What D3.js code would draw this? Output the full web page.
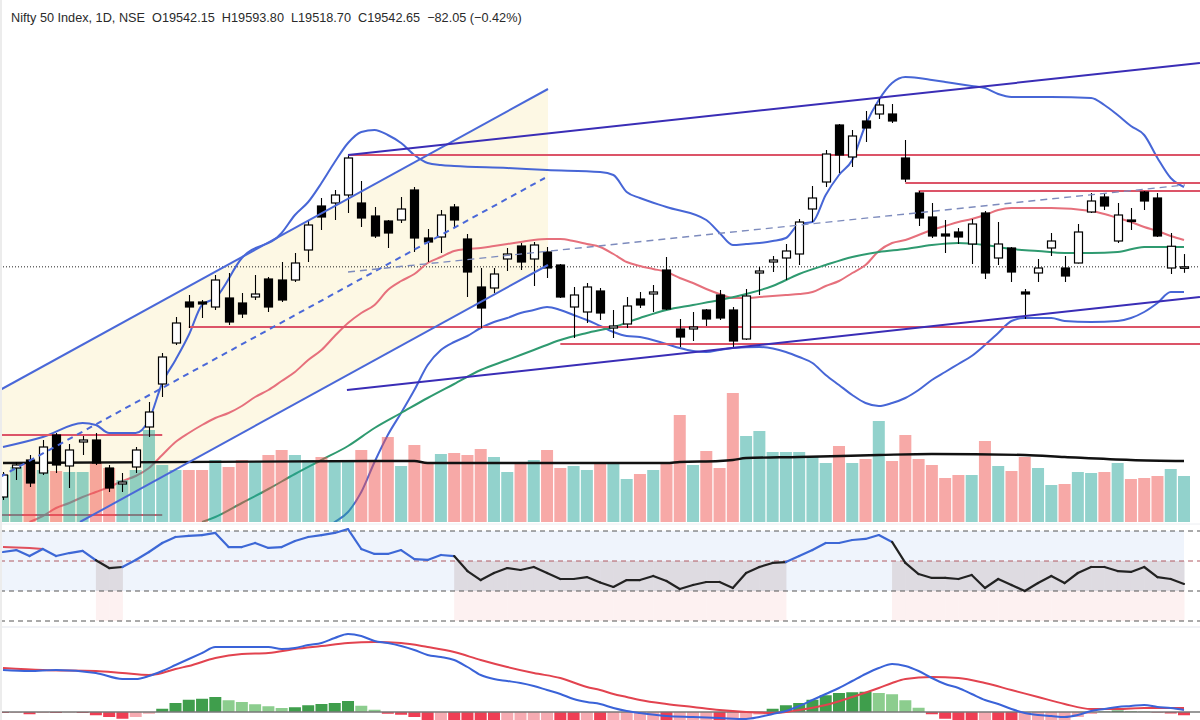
<!DOCTYPE html>
<html>
<head>
<meta charset="utf-8">
<title>Nifty 50 Index, 1D</title>
<script src="https://d3js.org/d3.v7.min.js"></script>
<style>
  body { margin: 0; background: #fff; }
  svg { display: block; }
  .title { font-family: "Liberation Sans", Arial, sans-serif; font-size: 12.7px; fill: #2a2a2a; white-space: pre; }
</style>
</head>
<body>
<svg width="1200" height="720"></svg>
<script>
// ---- candles (daily) ----
const open = [18622,18738,18770,18718,18870,18746,18842,18850,18738,18674,18742,18902,19074,19238,19402,19402,19382,19418,19398,19422,
  19494,19490,19490,19610,19786,19798,19830,19798,19746,19726,19730,19850,19658,19662,19782,19654,19462,19458,19574,19626,
  19574,19602,19550,19382,19362,19446,19298,19314,19414,19434,19530,19294,19294,19370,19430,19370,19254,19518,19562,19578,
  19594,19774,19882,20110,19982,20126,20154,20154,19978,19838,19742,19674,19682,19634,19758,19578,19618,19442,19518,19618,
  19538,19558,19762,19822,19646,19730,19842,19818,19538,19542.15];
const high = [18722,18762,18790,18850,18878,18834,18866,18878,18750,18718,18822,19002,19198,19342,19430,19410,19510,19518,19438,19510,
  19502,19562,19598,19730,19818,19850,19990,19886,19782,19730,19822,19862,19694,19770,19794,19674,19538,19538,19618,19638,
  19642,19622,19554,19462,19478,19458,19370,19422,19442,19470,19582,19334,19362,19374,19450,19382,19454,19542,19586,19634,
  19734,19866,20010,20114,20090,20166,20222,20194,20050,19846,19798,19730,19698,19734,19766,19722,19622,19454,19574,19678,
  19586,19714,19838,19838,19798,19778,19846,19838,19678,19593.8];
const low = [18610,18690,18662,18710,18718,18658,18790,18750,18642,18642,18718,18862,19022,19230,19298,19338,19370,19310,19338,19410,
  19362,19402,19482,19562,19690,19730,19758,19702,19658,19618,19718,19602,19562,19598,19702,19422,19298,19438,19526,19530,
  19466,19498,19418,19258,19318,19330,19258,19298,19378,19362,19370,19222,19246,19306,19330,19218,19250,19430,19522,19490,
  19550,19722,19862,19918,19942,20042,20134,20118,19882,19706,19658,19598,19634,19554,19494,19550,19482,19334,19482,19586,
  19482,19556,19758,19770,19638,19690,19770,19662,19514,19518.7];
const close = [18710,18750,18678,18822,18750,18810,18850,18758,18658,18682,18810,18962,19182,19318,19382,19394,19490,19322,19354,19434,
  19382,19410,19558,19710,19742,19830,19978,19738,19666,19678,19774,19658,19642,19750,19730,19522,19378,19514,19594,19562,
  19630,19538,19422,19430,19462,19358,19306,19386,19390,19442,19374,19262,19302,19334,19338,19246,19426,19526,19570,19606,
  19722,19818,19994,19990,20066,20098,20190,20126,19894,19738,19666,19666,19662,19714,19518,19634,19522,19434,19538,19646,
  19506,19682,19806,19786,19750,19726,19806,19666,19625,19542.65];
// volume, millions of shares
const volume = [141,165,180,156,153,150,150,180,162,126,156,276,171,156,156,156,186,165,186,180,
  201,216,201,186,195,186,186,216,180,255,168,231,180,204,207,201,219,195,150,180,
  186,216,162,168,156,177,177,129,144,156,177,321,171,213,162,387,258,273,210,210,
  210,195,177,228,177,189,303,183,261,189,171,132,141,141,243,168,153,195,162,111,
  114,150,147,150,177,129,132,138,159,138];

// ---- overlays: [bar index, value] ----
const bbUpper = [[0,18822],[3,18862],[6,18918],[7,18910],[8,18878],[10,18878],[11,18930],[12,19078],[13,19170],[14,19270],
  [15,19390],[16,19418],[18,19578],[21,19678],[22,19750],[23,19802],[24,19878],[25,19962],[26,20038],[27,20082],[28,20090],
  [29,20070],[30,20038],[31,19990],[32,19958],[33,19950],[34,19946],[38,19938],[41,19930],[45,19922],[46,19910],[47,19842],
  [48,19818],[50,19782],[53,19730],[54,19678],[55,19630],[56,19634],[57,19638],[58,19646],[59,19658],[60,19714],[61,19722],
  [62,19830],[63,19910],[64,19970],[65,20110],[66,20210],[67,20278],[68,20302],[69,20298],[70,20290],[71,20282],[72,20274],
  [73,20266],[74,20258],[75,20234],[76,20222],[79,20222],[82,20218],[83,20190],[84,20150],[85,20106],[86,20070],[87,19978],
  [88,19898],[89,19862]];
const bbLower = [[24,18490],[25,18522],[26,18562],[27,18642],[28,18762],[29,18870],[30,18958],[31,19050],[32,19150],[33,19210],
  [34,19242],[35,19266],[36,19298],[37,19322],[38,19338],[39,19358],[40,19370],[41,19382],[42,19370],[43,19350],[44,19330],
  [45,19306],[46,19282],[47,19266],[48,19262],[50,19234],[51,19218],[52,19206],[53,19202],[54,19210],[55,19218],[57,19222],
  [59,19202],[60,19182],[61,19158],[62,19110],[63,19070],[64,19030],[65,18998],[66,18986],[67,18998],[68,19018],[69,19050],
  [70,19090],[71,19122],[72,19154],[73,19186],[74,19230],[75,19278],[76,19326],[77,19338],[79,19338],[80,19326],[82,19322],
  [84,19326],[85,19338],[86,19362],[87,19398],[88,19442],[89,19442]];
const bbBasis = [[2,18522],[3,18546],[4,18578],[5,18598],[6,18622],[7,18642],[8,18662],[9,18686],[10,18706],[11,18738],
  [12,18790],[13,18842],[14,18878],[15,18910],[16,18938],[17,18958],[18,18986],[19,19022],[20,19050],[21,19086],[22,19122],
  [23,19170],[24,19210],[25,19266],[26,19318],[27,19358],[28,19390],[29,19450],[30,19486],[31,19514],[32,19558],[33,19582],
  [34,19606],[35,19614],[36,19618],[37,19626],[38,19634],[39,19642],[40,19650],[41,19654],[42,19654],[43,19646],[44,19634],
  [45,19622],[46,19594],[47,19562],[48,19546],[49,19534],[50,19522],[51,19498],[52,19478],[53,19454],[54,19434],[55,19418],
  [56,19418],[57,19422],[58,19426],[59,19430],[60,19434],[61,19442],[62,19466],[63,19486],[64,19518],[65,19550],[66,19606],
  [67,19638],[68,19650],[69,19670],[70,19690],[71,19706],[72,19722],[73,19734],[74,19750],[75,19770],[76,19778],[79,19778],
  [82,19766],[83,19754],[84,19738],[85,19722],[86,19702],[87,19686],[88,19666],[89,19650]];
const sma50 = [[15,18522],[16,18542],[18,18598],[20,18654],[22,18714],[24,18770],[26,18826],[28,18898],[30,18958],[32,19018],
  [34,19074],[36,19130],[38,19170],[40,19210],[42,19250],[44,19278],[46,19302],[48,19338],[50,19370],[52,19390],[54,19410],
  [56,19434],[58,19466],[60,19514],[62,19550],[64,19582],[66,19602],[68,19614],[70,19630],[72,19638],[74,19630],[76,19614],
  [78,19606],[80,19598],[82,19598],[84,19602],[86,19622],[88,19622],[89,19622]];
const volMA = [[0,177],[30,183],[31,183],[32,177],[50,177],[51,180],[54,183],[55,186],[56,192],[60,195],[66,201],[70,204],
  [77,201],[80,195],[85,186],[89,183]];

// ---- drawings: [bar index, price] end points ----
const channelUpper = [[-0.23,19050],[41.07,20254]];
const channelMid = [[-0.23,18702],[40.84,19898]];
const channelLower = [[5.8,18522],[41.07,19550]];
const channelFill = [[-0.23,19050],[41.07,20254],[41.07,19550],[-0.23,18350]];
const trendTop = [[26,19990],[90.2,20358]];
const trendBottom = [[25.92,19050],[90.2,19422]];
const trendMid = [[26,19522],[89.07,19870]];
// horizontal levels: price, from index, to index
const levelPrice = [19990,19878,19846,19302,19234,18870,18550];
const levelFrom = [26,68,69,14,42,-0.3,-0.3];
const levelTo = [90.3,90.3,90.3,90.3,90.3,12,12];
const lastPrice = 19542.65;

// ---- RSI ----
const rsi = [66,67.3,63.3,68,63.3,65.3,66.7,60.5,55.3,56,60.7,66,72,76,76.7,77.3,78.7,69.3,69.3,72,
  68.7,69.3,73.3,76,77.3,78.7,81.3,68,64.7,64.7,67.3,61.3,60.7,64,63.3,53.3,47.3,52,55.3,54,
  56,52,48,48,49.3,45.7,42.7,47.3,47.3,50,46.7,41.3,44,46,46,42,52,56,58.7,59.3,
  63.3,67.3,72,72,74,74.7,77.3,72.7,58.7,51.3,48.7,48.7,48,50.7,42,48,44,40,45.3,50,
  45.3,52,56,56,53.3,52.7,56,49.3,48,44.7];
const rsiMA = [[0,69.3],[1,69],[2,68.7],[3,68]];
const rsiLevels = [80,60,40,20];

// ---- MACD ----
const macd = [[0,168],[2,164],[4,168],[7,156],[9,132],[10,132],[11,144],[12,164],[13,188],[14,212],[15,236],[16,260],
  [18,260],[20,260],[21,252],[22,256],[23,268],[24,276],[25,296],[26,312],[27,304],[28,284],[29,276],[30,264],[31,248],
  [32,228],[33,220],[34,208],[35,180],[36,148],[37,132],[38,124],[39,116],[40,104],[41,88],[42,72],[43,52],[44,40],[45,32],
  [46,16],[47,4],[48,-4],[50,-16],[52,-20],[54,-24],[56,-28],[57,-20],[58,-8],[59,4],[60,24],[61,48],[62,72],[63,96],
  [64,124],[65,152],[66,176],[67,192],[68,184],[69,164],[70,136],[71,112],[72,96],[73,72],[74,48],[75,32],[76,12],[77,-4],
  [78,-12],[79,-16],[80,-20],[81,-12],[82,4],[83,12],[84,20],[85,24],[86,28],[87,20],[88,16],[89,8]];
const signal = [[0,176],[3,168],[7,164],[9,156],[11,148],[12,156],[13,172],[14,184],[16,216],[18,232],[20,236],[22,252],
  [24,264],[26,276],[28,280],[30,276],[32,260],[34,240],[36,208],[38,180],[40,156],[42,136],[44,100],[45,88],[46,72],[47,60],
  [48,48],[50,32],[52,20],[54,8],[56,0],[58,-4],[59,0],[60,8],[62,28],[64,60],[66,96],[67,116],[68,132],[70,140],[72,136],
  [74,116],[76,88],[78,60],[80,32],[82,12],[84,12],[86,16],[89,16]];
const hist = [-4,-3,-9,-4,-4,-2,-4,-13,-20,-27,-20,-7,13,36,49,53,60,47,40,31,
  23,16,19,27,32,36,44,25,9,-7,-11,-20,-40,-36,-44,-50,-58,-62,-58,-54,
  -52,-50,-56,-62,-60,-64,-60,-56,-52,-48,-52,-48,-44,-40,-44,-36,-24,-10,13,27,
  36,49,67,76,79,81,76,71,47,17,-9,-27,-40,-52,-48,-60,-64,-56,-48,-40,
  -32,-20,-8,2,6,4,2,-2,-6,-13];

// ---- layout ----
const W = 1200;
const mainBottom = 522, rsiTop = 525, rsiBottom = 626, macdTop = 628, H = 720;

const svg = d3.select("svg");
const defs = svg.append("defs");
defs.append("clipPath").attr("id", "clip-main").append("rect").attr("x", 0).attr("y", 0).attr("width", W).attr("height", mainBottom);
defs.append("clipPath").attr("id", "clip-rsi").append("rect").attr("x", 0).attr("y", rsiTop).attr("width", W).attr("height", rsiBottom - rsiTop);
defs.append("clipPath").attr("id", "clip-macd").append("rect").attr("x", 0).attr("y", macdTop).attr("width", W).attr("height", H - macdTop);

const x = d3.scaleLinear().domain([0, 89]).range([3, 1184]);
const y = d3.scaleLinear().domain([18530, 20610]).range([520, 0]);
const yVol = d3.scaleLinear().domain([0, 300]).range([mainBottom, 422]);
const yRsi = d3.scaleLinear().domain([20, 80]).range([621, 531]);
const yMacd = d3.scaleLinear().domain([0, 400]).range([712, 612]);

const priceLine = d3.line().x(d => x(d[0])).y(d => y(d[1]));
const smooth = d3.line().x(d => x(d[0])).y(d => y(d[1])).curve(d3.curveMonotoneX);

// ================= main pane =================
const main = svg.append("g").attr("clip-path", "url(#clip-main)");

main.append("path")
  .attr("d", priceLine(channelFill) + "Z")
  .attr("fill", "#fdf8e4");

main.append("line")
  .attr("x1", 0).attr("x2", W)
  .attr("y1", y(lastPrice)).attr("y2", y(lastPrice))
  .attr("stroke", "#222").attr("stroke-width", 1).attr("stroke-dasharray", "1,2");

const bandColor = "#4766d6";
main.append("path").datum(bbUpper).attr("d", smooth).attr("fill", "none").attr("stroke", bandColor).attr("stroke-width", 2);
main.append("path").datum(bbLower).attr("d", smooth).attr("fill", "none").attr("stroke", bandColor).attr("stroke-width", 2);
main.append("path").datum(bbBasis).attr("d", smooth).attr("fill", "none").attr("stroke", "#e6707c").attr("stroke-width", 2);
main.append("path").datum(sma50).attr("d", smooth).attr("fill", "none").attr("stroke", "#2f9a70").attr("stroke-width", 2);

// horizontal support / resistance levels
main.selectAll(".level")
  .data(levelPrice)
  .enter()
  .append("line")
  .attr("class", "level")
  .attr("x1", (d, i) => x(levelFrom[i]))
  .attr("x2", (d, i) => x(levelTo[i]))
  .attr("y1", d => y(d))
  .attr("y2", d => y(d))
  .attr("stroke", "#dc5468")
  .attr("stroke-width", 2);

// volume
const barW = 12;
main.selectAll(".vol")
  .data(volume)
  .enter()
  .append("rect")
  .attr("class", "vol")
  .attr("x", (d, i) => x(i) - barW / 2)
  .attr("y", d => yVol(d))
  .attr("width", barW)
  .attr("height", d => mainBottom - yVol(d))
  .attr("fill", (d, i) => close[i] >= open[i] ? "rgba(38,166,154,0.5)" : "rgba(239,83,80,0.5)");

main.append("path")
  .datum(volMA)
  .attr("d", d3.line().x(d => x(d[0])).y(d => yVol(d[1])).curve(d3.curveMonotoneX))
  .attr("fill", "none").attr("stroke", "#111").attr("stroke-width", 2.4);

// candles
const bodyW = 8;
const candles = main.selectAll(".candle")
  .data(d3.range(open.length))
  .enter()
  .append("g")
  .attr("class", "candle");

candles.append("line")
  .attr("x1", i => Math.round(x(i)) + 0.5)
  .attr("x2", i => Math.round(x(i)) + 0.5)
  .attr("y1", i => y(high[i]))
  .attr("y2", i => y(low[i]))
  .attr("stroke", "#000")
  .attr("stroke-width", 1.1);

candles.append("rect")
  .attr("x", i => Math.round(x(i)) + 0.5 - bodyW / 2)
  .attr("y", i => y(Math.max(open[i], close[i])))
  .attr("width", bodyW)
  .attr("height", i => Math.max(1.5, Math.abs(y(open[i]) - y(close[i]))))
  .attr("fill", i => close[i] >= open[i] ? "#fff" : "#000")
  .attr("stroke", "#000")
  .attr("stroke-width", 1.2);

// drawings
const chanColor = "#4a68d8";
main.append("path").datum(channelUpper).attr("d", priceLine).attr("stroke", chanColor).attr("stroke-width", 2).attr("fill", "none");
main.append("path").datum(channelLower).attr("d", priceLine).attr("stroke", chanColor).attr("stroke-width", 2).attr("fill", "none");
main.append("path").datum(channelMid).attr("d", priceLine).attr("stroke", chanColor).attr("stroke-width", 2)
  .attr("stroke-dasharray", "6,5").attr("fill", "none");

main.append("path").datum(trendTop).attr("d", priceLine).attr("stroke", "#3a2db6").attr("stroke-width", 2).attr("fill", "none");
main.append("path").datum(trendBottom).attr("d", priceLine).attr("stroke", "#3a2db6").attr("stroke-width", 2).attr("fill", "none");
main.append("path").datum(trendMid).attr("d", priceLine).attr("stroke", "#7d8bbd").attr("stroke-width", 1.4)
  .attr("stroke-dasharray", "7,5").attr("fill", "none");

// title
svg.append("text")
  .attr("class", "title")
  .attr("x", 11)
  .attr("y", 22)
  .text("Nifty 50 Index, 1D, NSE  O19542.15  H19593.80  L19518.70  C19542.65  \u221282.05 (\u22120.42%)");

// ================= RSI pane =================
const rsiG = svg.append("g").attr("clip-path", "url(#clip-rsi)");
const xEnd = x(rsi.length - 1);

rsiG.append("rect")
  .attr("x", 0).attr("y", yRsi(80))
  .attr("width", xEnd).attr("height", yRsi(40) - yRsi(80))
  .attr("fill", "#eff4fc");

const neutral = d3.range(1, rsi.length).filter(i => rsi[i] < 60);
rsiG.selectAll(".neutral-mid")
  .data(neutral)
  .enter()
  .append("rect")
  .attr("x", i => x(i - 1))
  .attr("width", i => x(i) - x(i - 1) + 0.5)
  .attr("y", yRsi(60))
  .attr("height", yRsi(40) - yRsi(60))
  .attr("fill", "#dedbe1");
rsiG.selectAll(".neutral-low")
  .data(neutral)
  .enter()
  .append("rect")
  .attr("x", i => x(i - 1))
  .attr("width", i => x(i) - x(i - 1) + 0.5)
  .attr("y", yRsi(40))
  .attr("height", yRsi(20) - yRsi(40))
  .attr("fill", "#fdf1f1");

rsiG.selectAll(".rsi-level")
  .data(rsiLevels)
  .enter()
  .append("line")
  .attr("x1", 0).attr("x2", W)
  .attr("y1", d => yRsi(d)).attr("y2", d => yRsi(d))
  .attr("stroke", (d, i) => i === 1 ? "#b05a63" : "#555")
  .attr("stroke-width", 1)
  .attr("stroke-dasharray", "5,4");

rsiG.append("path")
  .datum(rsiMA)
  .attr("d", d3.line().x(d => x(d[0])).y(d => yRsi(d[1])))
  .attr("fill", "none").attr("stroke", "#e0505c").attr("stroke-width", 2);

rsiG.selectAll(".rsi-seg")
  .data(d3.range(1, rsi.length))
  .enter()
  .append("line")
  .attr("x1", i => x(i - 1)).attr("y1", i => yRsi(rsi[i - 1]))
  .attr("x2", i => x(i)).attr("y2", i => yRsi(rsi[i]))
  .attr("stroke", i => rsi[i] < 60 ? "#222" : "#3d68d6")
  .attr("stroke-width", 2.2)
  .attr("stroke-linecap", "round");

// ================= MACD pane =================
const macdG = svg.append("g").attr("clip-path", "url(#clip-macd)");

macdG.selectAll(".hist")
  .data(hist)
  .enter()
  .append("rect")
  .attr("x", (d, i) => x(i) - 6)
  .attr("width", 12)
  .attr("y", d => d >= 0 ? yMacd(d) : yMacd(0))
  .attr("height", d => Math.abs(yMacd(d) - yMacd(0)))
  .attr("fill", (d, i) => {
    const prev = i > 0 ? hist[i - 1] : d;
    if (d >= 0) return d >= prev ? "#3f9e4c" : "#8ccd8e";
    return d <= prev ? "#ef3e54" : "#f6aab1";
  });

macdG.append("line")
  .attr("x1", 0).attr("x2", W)
  .attr("y1", yMacd(0)).attr("y2", yMacd(0))
  .attr("stroke", "#777").attr("stroke-width", 1.5);

const macdLine = d3.line().x(d => x(d[0])).y(d => yMacd(d[1])).curve(d3.curveMonotoneX);
macdG.append("path").datum(signal).attr("d", macdLine).attr("fill", "none").attr("stroke", "#e2434f").attr("stroke-width", 2);
macdG.append("path").datum(macd).attr("d", macdLine).attr("fill", "none").attr("stroke", "#3a63d8").attr("stroke-width", 2);

// pane separators and left edge
svg.append("line").attr("x1", 0).attr("x2", W).attr("y1", 524).attr("y2", 524).attr("stroke", "#eceef2");
svg.append("line").attr("x1", 0).attr("x2", W).attr("y1", 627).attr("y2", 627).attr("stroke", "#e0e3eb");
svg.append("rect").attr("x", 0).attr("y", 0).attr("width", 2).attr("height", H).attr("fill", "#ececec");
</script>
</body>
</html>
